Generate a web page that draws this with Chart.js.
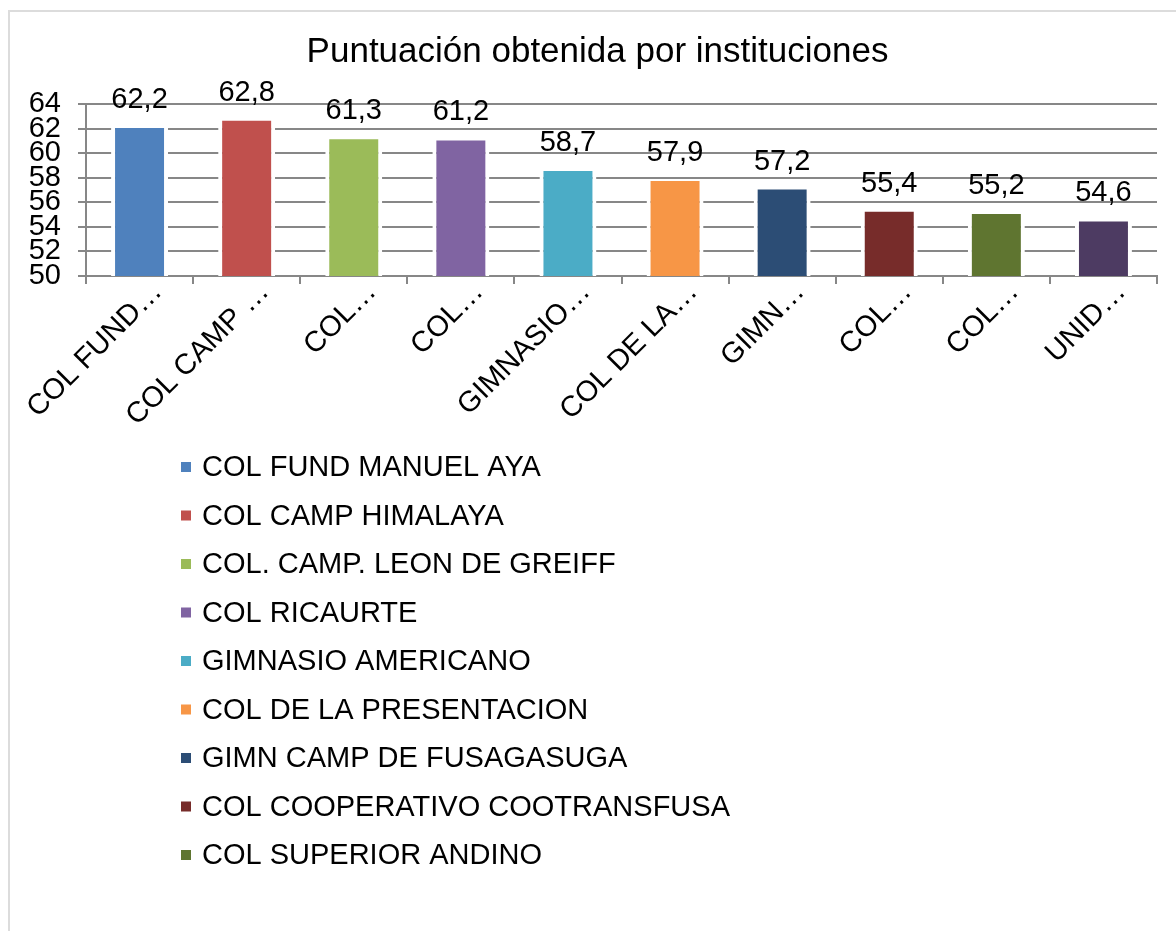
<!DOCTYPE html>
<html>
<head>
<meta charset="utf-8">
<title>Puntuación obtenida por instituciones</title>
<script src="https://cdn.jsdelivr.net/npm/chart.js"></script>
<style>
  html, body { margin: 0; padding: 0; background: #fff; overflow: hidden; }
  #frame { position: absolute; left: 8px; top: 10px; width: 1200px; height: 960px; border: 2px solid #dcdcdc; }
  #wrap { position: absolute; left: 0; top: 0; width: 1195px; height: 931px; }
</style>
</head>
<body>
<div id="frame"></div>
<div id="wrap"><canvas id="BarChart"></canvas></div>
<script>
// data
const categories = [
    'COL FUND MANUEL AYA',
    'COL CAMP HIMALAYA',
    'COL. CAMP. LEON DE GREIFF',
    'COL RICAURTE',
    'GIMNASIO AMERICANO',
    'COL DE LA PRESENTACION',
    'GIMN CAMP DE FUSAGASUGA',
    'COL COOPERATIVO COOTRANSFUSA',
    'COL SUPERIOR ANDINO',
    'UNID…'
];
const tick_labels = ['COL FUND…', 'COL CAMP …', 'COL…', 'COL…', 'GIMNASIO…', 'COL DE LA…', 'GIMN…', 'COL…', 'COL…', 'UNID…'];
const scores = [62.2, 62.8, 61.3, 61.2, 58.7, 57.9, 57.2, 55.4, 55.2, 54.6];
const bar_colors = ['#4F81BD', '#C0504D', '#9BBB59', '#8064A2', '#4BACC6', '#F79646', '#2C4D75', '#772C2A', '#5F7530', '#4D3B62'];
const legend_rows = 9; // the last entry is cut off in the original

const FONT = '"Liberation Sans", Arial, sans-serif';
const GRID = '#878787';

// value above every bar, decimal comma
const valueLabels = {
    id: 'valueLabels',
    afterDatasetsDraw(chart) {
        const ctx = chart.ctx;
        ctx.save();
        ctx.font = '29px ' + FONT;
        ctx.fillStyle = '#000';
        ctx.textAlign = 'center';
        ctx.textBaseline = 'alphabetic';
        chart.getDatasetMeta(0).data.forEach((bar, i) => {
            ctx.fillText(scores[i].toFixed(1).replace('.', ','), bar.x, bar.y - 18);
        });
        ctx.restore();
    }
};

// one legend entry per line under the axis
const listLegend = {
    id: 'listLegend',
    afterDraw(chart) {
        const ctx = chart.ctx;
        const top = chart.scales.x.bottom + 50;
        ctx.save();
        ctx.font = '29px ' + FONT;
        ctx.textBaseline = 'alphabetic';
        for (let i = 0; i < legend_rows; i++) {
            const y = top + i * 48.5;
            ctx.fillStyle = bar_colors[i];
            ctx.fillRect(181, y - 14, 10, 10);
            ctx.fillStyle = '#000';
            ctx.fillText(categories[i], 202, y);
        }
        ctx.restore();
    }
};

const BAR_CANVAS = document.getElementById('BarChart');
var BarChart = new Chart(BAR_CANVAS, {
    type: 'bar',
    data: {
        labels: tick_labels,
        datasets: [{
            label: 'Puntuación',
            data: scores,
            backgroundColor: bar_colors,
            borderColor: '#ffffff',
            borderWidth: {top: 2, left: 4, right: 4, bottom: 0},
            barPercentage: 0.532,
            categoryPercentage: 1
        }]
    },
    plugins: [valueLabels, listLegend],
    options: {
        responsive: true,
        maintainAspectRatio: false,
        animation: false,
        layout: {
            padding: {left: 0, right: 0, top: 0, bottom: 505}
        },
        plugins: {
            legend: {display: false},
            tooltip: {enabled: false},
            title: {
                display: true,
                text: 'Puntuación obtenida por instituciones',
                color: '#000',
                font: {family: FONT, size: 35, weight: 'normal'},
                padding: {top: 31, bottom: 31}
            }
        },
        scales: {
            y: {
                min: 50,
                max: 64,
                afterFit: (s) => { s.width = 86; },
                ticks: {
                    stepSize: 2,
                    autoSkip: false,
                    padding: 17,
                    color: '#000',
                    font: {family: FONT, size: 29}
                },
                grid: {color: GRID, lineWidth: 2, tickLength: 8},
                border: {color: GRID, width: 2}
            },
            // empty margin on the right so the title stays centred on the frame
            spacer: {
                position: 'right',
                grid: {display: false},
                border: {display: false},
                ticks: {display: false},
                afterFit: (s) => { s.width = 38; }
            },
            x: {
                afterFit: (s) => { s.height = 150; },
                ticks: {
                    autoSkip: false,
                    maxRotation: 45,
                    minRotation: 45,
                    labelOffset: 18,
                    padding: -9,
                    color: '#000',
                    font: {family: FONT, size: 29}
                },
                grid: {drawOnChartArea: false, drawTicks: true, tickLength: 8, color: GRID, lineWidth: 2},
                border: {color: GRID, width: 2}
            }
        }
    }
});
</script>
</body>
</html>
